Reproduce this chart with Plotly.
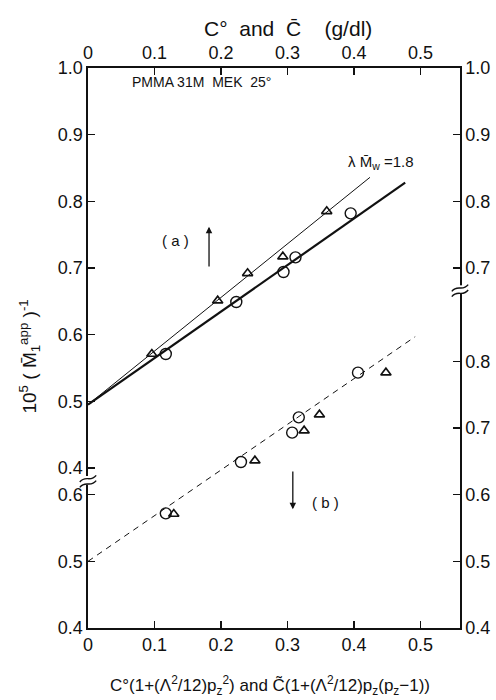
import plotly.graph_objects as go

# ---------------- data ----------------
# (a) upper panel, left scale 0.4-1.0 (C° and C-bar in g/dl)
a_tri_x = [0.096, 0.195, 0.240, 0.293, 0.359]
a_tri_y = [0.571, 0.651, 0.692, 0.717, 0.785]
a_circ_x = [0.117, 0.223, 0.294, 0.312, 0.395]
a_circ_y = [0.571, 0.649, 0.694, 0.716, 0.782]
a_thin_x = [0.0, 0.424]       # lambda Mw = 1.8 line
a_thin_y = [0.495, 0.836]
a_thick_x = [0.0, 0.477]
a_thick_y = [0.495, 0.828]

# (b) lower panel, lower scale 0.4-0.8 (corrected concentration)
b_circ_x = [0.117, 0.230, 0.307, 0.317, 0.406]
b_circ_y = [0.572, 0.649, 0.693, 0.716, 0.783]
b_tri_x = [0.129, 0.251, 0.325, 0.348, 0.448]
b_tri_y = [0.571, 0.651, 0.696, 0.720, 0.783]
b_line_x = [0.0, 0.492]
b_line_y = [0.500, 0.837]

x_ticks = [0, 0.1, 0.2, 0.3, 0.4, 0.5]
x_ticktext = ["0", "0.1", "0.2", "0.3", "0.4", "0.5"]
left_upper_ticks = [0.4, 0.5, 0.6, 0.7, 0.8, 0.9, 1.0]
left_lower_ticks = [0.4, 0.5, 0.6]
right_upper_ticks = [0.7, 0.8, 0.9, 1.0]
right_lower_ticks = [0.4, 0.5, 0.6, 0.7, 0.8]

FONT = "Liberation Sans"
BLACK = "#111111"

fig = go.Figure()

# (a) traces on yaxis
fig.add_trace(go.Scatter(x=a_thin_x, y=a_thin_y, mode="lines",
                         line=dict(color=BLACK, width=1), yaxis="y", showlegend=False))
fig.add_trace(go.Scatter(x=a_thick_x, y=a_thick_y, mode="lines",
                         line=dict(color=BLACK, width=2.2), yaxis="y", showlegend=False))
fig.add_trace(go.Scatter(x=a_tri_x, y=a_tri_y, mode="markers",
                         marker=dict(symbol="triangle-up-open", size=9, color=BLACK,
                                     line=dict(width=1.6)), yaxis="y", showlegend=False))
fig.add_trace(go.Scatter(x=a_circ_x, y=a_circ_y, mode="markers",
                         marker=dict(symbol="circle-open", size=11, color=BLACK,
                                     line=dict(width=1.4)), yaxis="y", showlegend=False))

# (b) traces on yaxis3
fig.add_trace(go.Scatter(x=b_line_x, y=b_line_y, mode="lines",
                         line=dict(color=BLACK, width=1, dash="6px,5px"), yaxis="y3", showlegend=False))
fig.add_trace(go.Scatter(x=b_tri_x, y=b_tri_y, mode="markers",
                         marker=dict(symbol="triangle-up-open", size=9, color=BLACK,
                                     line=dict(width=1.6)), yaxis="y3", showlegend=False))
fig.add_trace(go.Scatter(x=b_circ_x, y=b_circ_y, mode="markers",
                         marker=dict(symbol="circle-open", size=11, color=BLACK,
                                     line=dict(width=1.4)), yaxis="y3", showlegend=False))
# placeholder traces so the extra axes render
fig.add_trace(go.Scatter(x=[0], y=[0.2], xaxis="x2", yaxis="y2", mode="markers",
                         marker=dict(opacity=0), hoverinfo="skip", showlegend=False))
fig.add_trace(go.Scatter(x=[0], y=[0.45], yaxis="y4", mode="markers",
                         marker=dict(opacity=0), hoverinfo="skip", showlegend=False))

XR = [0, 0.5594]
tickfont = dict(family=FONT, size=18, color=BLACK)
common = dict(showgrid=False, zeroline=False, showline=True, linecolor=BLACK, linewidth=1.6,
              ticks="inside", ticklen=7, tickwidth=1.3, tickcolor=BLACK, tickfont=tickfont,
              automargin=False)

fig.update_layout(
    width=496, height=700,
    margin=dict(l=88, r=36, t=68, b=72),
    paper_bgcolor="white", plot_bgcolor="white",
    font=dict(family=FONT, color=BLACK),
    hovermode=False,
    xaxis=dict(range=XR, tickvals=x_ticks, ticktext=x_ticktext, anchor="y", **common),
    xaxis2=dict(range=XR, tickvals=x_ticks, ticktext=x_ticktext, overlaying="x",
                side="top", anchor="y", **common),
    yaxis=dict(range=[0.16, 1.0], tickvals=left_upper_ticks,
               ticktext=[f"{v:.1f}" for v in left_upper_ticks], side="left", **common),
    yaxis2=dict(range=[0.16, 1.0], tickvals=right_upper_ticks,
                ticktext=[f"{v:.1f}" for v in right_upper_ticks], side="right",
                overlaying="y", anchor="x", **common),
    yaxis3=dict(range=[0.4, 1.24], tickvals=left_lower_ticks,
                ticktext=[f"{v:.1f}" for v in left_lower_ticks], side="left",
                overlaying="y", anchor="x", **common),
    yaxis4=dict(range=[0.4, 1.24], tickvals=right_lower_ticks,
                ticktext=[f"{v:.1f}" for v in right_lower_ticks], side="right",
                overlaying="y", anchor="x", **common),
)

ann = []
ann.append(dict(text="C°  and  C\u0304    (g/dl)", xref="paper", yref="paper",
                x=0.537, y=1.0, yshift=40, xanchor="center", yanchor="middle",
                showarrow=False, font=dict(family=FONT, size=21, color=BLACK)))
ann.append(dict(text="C°(1+(Λ<sup>2</sup>/12)p<sub>z</sub><sup>2</sup>) and C\u0303(1+(Λ<sup>2</sup>/12)p<sub>z</sub>(p<sub>z</sub>\u22121))",
                xref="paper", yref="paper", x=0.49, y=0, yshift=-57,
                xanchor="center", yanchor="middle", showarrow=False,
                font=dict(family=FONT, size=17, color=BLACK)))
ann.append(dict(text="10<sup>5</sup> ( M\u0304<sub>1</sub><sup>app</sup> )<sup>-1</sup>",
                xref="paper", yref="paper", x=-0.157, y=0.484, textangle=-90,
                xanchor="center", yanchor="middle", showarrow=False,
                font=dict(family=FONT, size=19, color=BLACK)))
ann.append(dict(text="PMMA 31M  MEK  25°", xref="x", yref="y", x=0.063, y=0.979,
                xanchor="left", yanchor="middle", showarrow=False,
                font=dict(family=FONT, size=14, color=BLACK)))
ann.append(dict(text="λ M\u0304<sub>w</sub> =1.8", xref="x", yref="y", x=0.388, y=0.858,
                xanchor="left", yanchor="middle", showarrow=False,
                font=dict(family=FONT, size=15, color=BLACK)))
ann.append(dict(text="( a )", xref="x", yref="y", x=0.132, y=0.742,
                xanchor="center", yanchor="middle", showarrow=False,
                font=dict(family=FONT, size=15, color=BLACK)))
ann.append(dict(text="( b )", xref="x", yref="y3", x=0.357, y=0.589,
                xanchor="center", yanchor="middle", showarrow=False,
                font=dict(family=FONT, size=15, color=BLACK)))
ann.append(dict(text="", xref="x", yref="y", x=0.182, y=0.762, ax=0.182, ay=0.700,
                axref="x", ayref="y", showarrow=True, arrowhead=2, arrowsize=1,
                arrowwidth=1.3, arrowcolor=BLACK))
ann.append(dict(text="", xref="x", yref="y3", x=0.308, y=0.578, ax=0.308, ay=0.637,
                axref="x", ayref="y3", showarrow=True, arrowhead=2, arrowsize=1,
                arrowwidth=1.3, arrowcolor=BLACK))
fig.update_layout(annotations=ann)

# axis break marks
def brk(xp, yc):
    dx = 0.022
    dy = 0.005
    shapes = [
        dict(type="rect", xref="paper", yref="y", x0=xp - 0.006, x1=xp + 0.006,
             y0=yc - 0.009, y1=yc + 0.004, fillcolor="white", line=dict(width=0), layer="above"),
    ]
    for off in (0.0, -0.008):
        y0 = yc + off
        shapes.append(dict(type="path", xref="paper", yref="y", layer="above",
                           path=f"M {xp-dx},{y0-dy} C {xp-dx/3},{y0+dy*1.2} {xp+dx/3},{y0-dy*1.2} {xp+dx},{y0+dy}",
                           line=dict(color=BLACK, width=1.4)))
    return shapes

fig.update_layout(shapes=brk(0.0, 0.384) + brk(1.0, 0.670))

fig.write_html("out.html", config={"displayModeBar": False, "staticPlot": True},
               post_script="document.body.style.margin='0';document.body.style.overflow='hidden';")
